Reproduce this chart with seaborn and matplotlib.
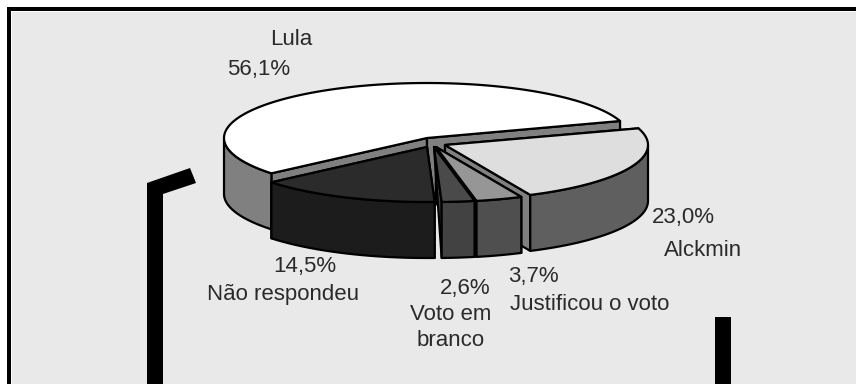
import numpy as np
import matplotlib
matplotlib.use("Agg")
import matplotlib.pyplot as plt
from matplotlib.patches import Polygon
import seaborn as sns

# Values
labels = ["Lula", "Não respondeu", "Voto em\nbranco", "Justificou o voto", "Alckmin"]
values = [56.1, 14.5, 2.6, 3.7, 23.0]
value_labels = ["56,1%", "14,5%", "2,6%", "3,7%", "23,0%"]
top_colors = ["#ffffff", "#2b2b2b", "#4a4a4a", "#969696", "#dedede"]
wall_colors = ["#808080", "#1c1c1c", "#424242", "#4f4f4f", "#5f5f5f"]
cut_colors = ["#808080", "#1c1c1c", "#424242", "#4f4f4f", "#808080"]
apex_x = [427, 427, 434, 436, 445]
apex_y = [138, 147, 147, 147, 145]
draw_order = [0, 4, 1, 3, 2]

W, H = 856, 384
START = 18
RX, RY, DEPTH = 203, 55, 56


def rim(t, cx, cy):
    t = np.radians(t)
    return cx + RX * np.cos(t), cy - RY * np.sin(t)


def draw_slice(ax, t0, t1, cx, cy, top, wall, cut, z, narrow=False):
    t = np.linspace(t0, t1, 120)
    x, y = rim(t, cx, cy)
    edge = dict(edgecolor="black", linewidth=1.6, joinstyle="round")
    # cut faces, visible where the slices are pulled out
    for xe, ye in [(x[-1], y[-1]), (x[0], y[0])]:
        if narrow:
            face = [(cx, cy), (xe, ye), (xe, ye + DEPTH)]
        else:
            face = [(cx, cy), (xe, ye), (xe, ye + DEPTH), (cx, cy + DEPTH)]
        ax.add_patch(Polygon(face, facecolor=cut, zorder=z, **edge))
    # outer wall, front half only
    front = np.sin(np.radians(t)) <= 0
    if front.any():
        xf, yf = x[front], y[front]
        ax.add_patch(Polygon(np.c_[np.r_[xf, xf[::-1]], np.r_[yf, yf[::-1] + DEPTH]], facecolor=wall, zorder=z + 0.1, **edge))
    ax.add_patch(Polygon(np.c_[np.r_[cx, x], np.r_[cy, y]], facecolor=top, zorder=z + 0.2, **edge))


sns.set_theme(style="white")
plt.rcParams["font.family"] = ["Liberation Sans", "DejaVu Sans"]

fig, ax = plt.subplots(figsize=(W / 100, H / 100), dpi=100)
fig.subplots_adjust(0, 0, 1, 1)
ax.set_xlim(0, W)
ax.set_ylim(H, 0)
ax.axis("off")
fig.patch.set_facecolor("white")

# frame: black on top and left only, panel runs off the right and bottom
ax.add_patch(Polygon([(7, 7), (856, 7), (856, 11), (11, 11), (11, 384), (7, 384)], facecolor="black", edgecolor="none", zorder=0))
ax.add_patch(Polygon([(12, 12), (856, 12), (856, 384), (12, 384)], facecolor="#e9e9e9", edgecolor="none", zorder=0))

# black strokes behind the chart
ax.add_patch(Polygon([(147, 183), (190, 168), (196, 183), (163, 194), (163, 384), (147, 384)], facecolor="black", edgecolor="none", zorder=1))
ax.add_patch(Polygon([(715, 317), (731, 317), (731, 384), (715, 384)], facecolor="black", edgecolor="none", zorder=1))

angles = START + np.cumsum([0] + values) * 3.6
for z, i in enumerate(draw_order):
    draw_slice(ax, angles[i], angles[i + 1], apex_x[i], apex_y[i], top_colors[i], wall_colors[i], cut_colors[i], 2 + z, narrow=(i == 2))

text_color = "#2a2a2a"
fs = 16
kw = dict(ha="center", va="baseline", fontsize=fs, color=text_color)
ax.text(291, 45, labels[0], **kw)
ax.text(259, 75, value_labels[0], **kw)
ax.text(305, 272, value_labels[1], **kw)
ax.text(283, 300, labels[1], **kw)
ax.text(465, 294, value_labels[2], **kw)
ax.text(451, 346, labels[2], linespacing=1.3, **kw)
ax.text(533, 282, value_labels[3], **kw)
ax.text(590, 310, labels[3], **kw)
ax.text(683, 223, value_labels[4], **kw)
ax.text(703, 256, labels[4], **kw)

fig.savefig("out.png", dpi=100, facecolor=fig.get_facecolor())
